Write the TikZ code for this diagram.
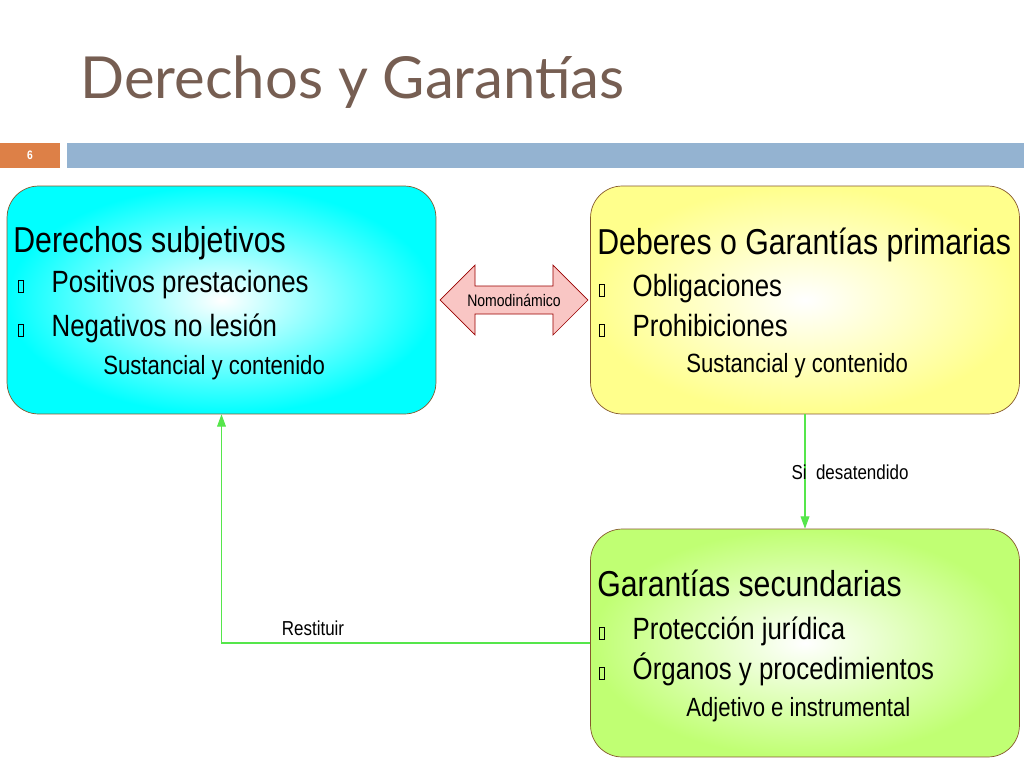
\documentclass[tikz,border=0pt]{standalone}
\usepackage{fontspec}
\setmainfont{Liberation Sans}[FakeStretch=0.84]
\newfontfamily\titlefont{Lato}
\usetikzlibrary{shapes.arrows,arrows.meta,positioning}
\definecolor{titlebrown}{HTML}{765E52}
\definecolor{barblue}{HTML}{94B3D1}
\definecolor{barorange}{HTML}{DD8047}
\definecolor{linkgreen}{HTML}{55E64B}
\definecolor{arrowpink}{HTML}{F9C6C4}
\newcommand{\bx}{\tikz[baseline=0pt]\draw[line width=0.4pt] (0pt,0pt) rectangle (2.6pt,6.5pt);}

\begin{document}
\begin{tikzpicture}[x=0.02cm, y=-0.02cm,
  panel/.style={draw=brown!70!black, rounded corners=18pt, minimum width=8.58cm, minimum height=4.56cm, inner sep=0pt},
  head/.style={anchor=base west, inner sep=0pt, font=\fontsize{20.5}{23}\selectfont},
  item/.style={anchor=base west, inner sep=0pt, font=\fontsize{17.5}{20}\selectfont},
  sub/.style={anchor=base west, inner sep=0pt, font=\fontsize{15}{17}\selectfont},
  note/.style={inner sep=0pt, font=\fontsize{11.5}{13}\selectfont},
  link/.style={linkgreen, line width=0.6pt, -{Triangle[length=7pt, width=5pt]}},
]
\useasboundingbox[fill=white] (0,0) rectangle (1024,768);

% Title and header bar
\node[anchor=base west, inner sep=0pt, text=titlebrown, font=\titlefont\fontsize{33}{36}\selectfont] (title) at (80,98) {Derechos y Garantías};
\fill[barorange] (0,143) rectangle (60,168);
\fill[barblue] (67,143) rectangle (1024,168);
\node[text=white, font=\bfseries\fontsize{7}{8}\selectfont] (slide) at (30,155) {6};

% Boxes
\node[panel, shading=radial, inner color=white, outer color=cyan] (subj) at (221.5,300) {};
\node[panel, shading=radial, inner color=white, outer color=yellow!45] (prim) at (805,300) {};
\node[panel, shading=radial, inner color=white, outer color=green!45!yellow!55] (secu) at (805,643) {};

% Box texts
\node[head] (subjh) at (13,252) {Derechos subjetivos};
\node[item] (subj1) at (18,292) {\bx\hspace{16pt}Positivos prestaciones};
\node[item] (subj2) at (18,336) {\bx\hspace{16pt}Negativos no lesión};
\node[sub] (subj3) at (103,374) {Sustancial y contenido};

\node[head] (primh) at (597,254) {Deberes o Garantías primarias};
\node[item] (prim1) at (599,296) {\bx\hspace{16pt}Obligaciones};
\node[item] (prim2) at (599,336) {\bx\hspace{16pt}Prohibiciones};
\node[sub] (prim3) at (686,372) {Sustancial y contenido};

\node[head] (secuh) at (597,596) {Garantías secundarias};
\node[item] (secu1) at (599,639) {\bx\hspace{16pt}Protección jurídica};
\node[item] (secu2) at (599,679) {\bx\hspace{16pt}Órganos y procedimientos};
\node[sub] (secu3) at (686,716) {Adjetivo e instrumental};

% Connectors
\node[double arrow, draw=red!60!black, fill=arrowpink, minimum height=2.96cm, minimum width=1.4cm,
  double arrow head extend=0.25cm, inner sep=1pt, font=\fontsize{9.5}{10}\selectfont] (nomo) at (514,300) {Nomodinámico};
\draw[link] (prim.south) -- (secu.north);
\node[note] (desat) at (850,472) {Si\ \ desatendido};
\draw[link] (secu.west) -| (subj.south);
\node[note] (resti) at (313,628) {Restituir};
\end{tikzpicture}
\end{document}
